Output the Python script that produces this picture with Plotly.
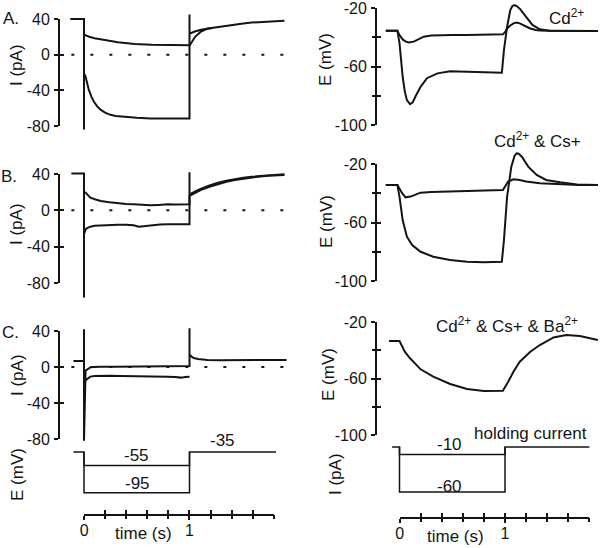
import plotly.graph_objects as go

W, H = 600, 548
FONT = "Liberation Sans, Arial, Helvetica, sans-serif"
INK = "#141414"

# ---------------- data ----------------
# Left column: current I (pA) vs time (s)
A_I1_t = [-0.13, 0.0, 0.0, 0.0, 0.01, 0.05, 0.1, 0.16, 0.24, 0.32, 0.4, 0.48, 0.64, 0.8, 0.98, 1.0, 1.0, 1.0,
          1.05, 1.11, 1.19, 1.27, 1.35, 1.43, 1.51, 1.59, 1.67, 1.75, 1.9]
A_I1_v = [40, 40, -84, 22, 22, 20, 18.5, 17, 15.5, 14, 13, 12, 11, 10.5, 10.5, 10.5, 45, 23.5,
          26, 28, 29.5, 31, 32.5, 34, 35, 36, 36.7, 37.2, 38]
A_I2_t = [0.0, 0.015, 0.03, 0.046, 0.07, 0.093, 0.125, 0.16, 0.2, 0.25, 0.3, 0.38, 0.5, 0.63, 0.8, 0.98, 1.0, 1.0,
          1.03, 1.05, 1.08, 1.11, 1.14, 1.17, 1.22]
A_I2_v = [-21, -24.5, -32, -39.5, -47, -52.5, -58, -62, -65, -67.5, -68.8, -69.8, -70.8, -71.5, -71.5, -71.5, -71.5, 10,
          15, 19.5, 23, 26, 27.5, 29, 30]

B_I1_t = [-0.12, 0.0, 0.0, 0.0, 0.015, 0.06, 0.11, 0.16, 0.24, 0.32, 0.4, 0.47, 0.55, 0.63, 0.71, 0.79, 0.87, 0.98,
          1.0, 1.0, 1.0, 1.05, 1.11, 1.19, 1.27, 1.35, 1.43, 1.51, 1.59, 1.67, 1.74, 1.82, 1.9]
B_I1_v = [40.5, 40.5, -96, 20, 19.5, 14, 12, 10.3, 8.8, 7.7, 7, 6.6, 6, 5.5, 6, 6.6, 6.3, 6.6,
          6.6, 42, 17.6, 20.5, 23.9, 27.5, 30.5, 32.5, 34.5, 35.8, 37, 37.8, 38.5, 39, 39.6]
B_I2_t = [0.0, 0.005, 0.015, 0.03, 0.06, 0.1, 0.16, 0.24, 0.32, 0.4, 0.47, 0.52, 0.56, 0.6, 0.66, 0.72, 0.79, 0.87,
          0.98, 1.0, 1.0, 1.05, 1.11, 1.19, 1.27, 1.35, 1.43, 1.51, 1.59, 1.67, 1.74, 1.82, 1.9]
B_I2_v = [-26.4, -24, -21, -19.5, -18, -17, -16.5, -16, -15.8, -16, -16.5, -18, -17.5, -16.5, -16, -15.6, -15.4, -15.6,
          -15.4, -15.4, 16, 19, 22.5, 26, 29, 31.5, 33.5, 35, 36.3, 37.2, 38, 38.5, 39]

C_I1_t = [-0.1, 0.0, 0.0, 0.0, 0.015, 0.04, 0.06, 0.1, 0.16, 0.3, 0.47, 0.6, 0.8, 0.98, 1.0, 1.0, 1.0,
          1.02, 1.04, 1.08, 1.12, 1.17, 1.3, 1.5, 1.65, 1.8, 1.92]
C_I1_v = [6.7, 6.7, 42, -82, -4, -1.5, -0.4, 0, 0.4, 0.4, 0.4, 0.8, 1, 1.1, 1.1, 43, 14,
          11.5, 10, 8.9, 8.2, 7.8, 7.6, 7.8, 8.3, 7.8, 7.8]
C_I2_t = [0.0, 0.015, 0.04, 0.06, 0.1, 0.16, 0.25, 0.35, 0.47, 0.6, 0.7, 0.79, 0.86, 0.92, 0.96, 1.0]
C_I2_v = [-16, -14.4, -12, -10.7, -10, -9.6, -9.8, -10, -10, -10.3, -10.3, -10.7, -11.2, -11.8, -11, -10.7]

ZERO_t = [-0.12, 1.92]
ZERO_v = [0, 0]

# Left protocol: command voltage E (mV)
P_E1_t = [-0.1, 0, 0, 1, 1, 1.82]
P_E1_v = [-35, -35, -55, -55, -35, -35]
P_E2_t = [0, 0, 1, 1]
P_E2_v = [-35, -95, -95, -35]

# Right column: membrane potential E (mV) vs time (s)
RA1_t = [-0.13, -0.02, 0.0, 0.03, 0.06, 0.09, 0.135, 0.18, 0.23, 0.3, 0.39, 0.5, 0.64, 0.8, 0.98, 1.0, 1.02,
         1.05, 1.08, 1.11, 1.14, 1.19, 1.24, 1.29, 1.33, 1.45, 1.6, 1.75, 1.88]
RA1_v = [-35.5, -35.5, -38.5, -41.5, -43, -43.5, -43, -41.5, -39.6, -38.8, -38.5, -38.5, -38.5, -38.3, -38, -36.5, -34,
         -32, -30.5, -30, -30.5, -32.3, -34, -35, -35.4, -35.6, -35.7, -35.7, -35.8]
RA2_t = [-0.13, -0.02, 0.0, 0.015, 0.03, 0.05, 0.07, 0.1, 0.125, 0.15, 0.2, 0.26, 0.36, 0.48, 0.64, 0.8, 0.97,
         0.99, 1.02, 1.05, 1.07, 1.09, 1.11, 1.14, 1.17, 1.2, 1.26, 1.33, 1.42, 1.6, 1.88]
RA2_v = [-35.5, -35.5, -44, -56, -67, -77, -83, -85.8, -84.5, -80.7, -73.9, -68, -64.7, -63.2, -63.6, -64.3, -64.3,
         -48.8, -32.8, -21.4, -18.7, -18, -18.7, -20.5, -23, -26, -31.6, -34.6, -35.5, -35.7, -35.8]

RB1_t = [-0.13, -0.02, 0.025, 0.057, 0.104, 0.15, 0.2, 0.3, 0.48, 0.8, 0.98, 1.03, 1.08, 1.14, 1.2, 1.33, 1.52,
         1.7, 1.88]
RB1_v = [-34.4, -34.4, -40, -42.8, -42.3, -41, -39.6, -39.2, -38.9, -38.5, -37.8, -32, -30.5, -31, -32, -33.2, -34,
         -34.3, -34.4]
RB2_t = [-0.13, -0.02, 0.0, 0.03, 0.07, 0.12, 0.2, 0.32, 0.48, 0.64, 0.8, 0.97, 0.99, 1.02, 1.06, 1.09, 1.11,
         1.13, 1.16, 1.22, 1.3, 1.39, 1.52, 1.68, 1.88]
RB2_v = [-34.4, -34.4, -42.3, -58.3, -69.7, -75.4, -80, -83.4, -85.6, -86.8, -87.2, -86.8, -72, -42.3, -21.8, -14.5,
         -12.7, -13, -15, -21.8, -27.5, -30.9, -32.5, -34, -34.4]

RC_t = [-0.1, 0.0, 0.05, 0.1, 0.2, 0.32, 0.48, 0.64, 0.8, 0.98, 1.03, 1.08, 1.14, 1.24, 1.33, 1.46, 1.58, 1.71, 1.88]
RC_v = [-33.5, -33.5, -41, -45.7, -53.5, -58.7, -63.9, -67.4, -68.8, -68.6, -62.3, -55.2, -48.1, -41, -36.3, -30.9,
        -29.2, -29.9, -32.7]

# Right protocol: injected current I (pA)
RP1_t = [-0.07, 0, 0, 1, 1, 1.8]
RP1_v = [0, 0, -10, -10, 0, 0]
RP2_t = [0, 0, 1, 1]
RP2_v = [0, -60, -60, 0]

# Ticks: labelled ticks and unlabelled ticks
LEFT_TICKS = [-80, -40, 0, 40]
LEFT_TEXT = ["-80", "-40", "0", "40"]
LEFT_MINOR = []
RIGHT_TICKS = [-100, -60, -20]
RIGHT_TEXT = ["-100", "-60", "-20"]
RIGHT_MINOR = [-80, -40]
TIME_TICKS = [0, 1.0]
TIME_TEXT = ["0", "1"]
TIME_MINOR = [0.2, 0.4, 0.6, 0.8, 1.2, 1.4, 1.6, 1.8]

# ---------------- geometry helpers (pixels -> paper) ----------------
def xd(a, b):
    return [a / W, b / W]


def yd(top, bottom):
    return [1 - bottom / H, 1 - top / H]


LX0, RX0, SC = 84.0, 399.5, 105.5
LXR = [(60 - LX0) / SC, (292 - LX0) / SC]
RXR = [(377 - RX0) / SC, (600 - RX0) / SC]

fig = go.Figure()
layout = dict(
    width=W, height=H, margin=dict(l=0, r=0, t=0, b=0, autoexpand=False),
    paper_bgcolor="white", plot_bgcolor="rgba(0,0,0,0)",
    showlegend=False, font=dict(family=FONT, size=16, color=INK),
)

tickfont = dict(family=FONT, size=16, color=INK)
hidden = dict(visible=False, showgrid=False, zeroline=False, automargin=False)

counter = [0]


def new_idx():
    counter[0] += 1
    return counter[0]


def sx(i):
    return "" if i == 1 else str(i)


def placeholder(xi, yi):
    fig.add_trace(go.Scatter(x=[None], y=[None], xaxis="x" + sx(xi), yaxis="y" + sx(yi), hoverinfo="skip"))


def panel(xdom, xr, pt, pb, vt, vb, tv, tt, minor, extra=22):
    """Data subplot (hidden axes, roomy domain) + visible y axis subplot with cross ticks."""
    s = (pb - pt) / (vt - vb)
    et = min(extra, pt)
    eb = min(extra, H - pb)
    d = new_idx()
    layout["xaxis" + sx(d)] = dict(domain=xd(*xdom), range=xr, anchor="y" + sx(d), **hidden)
    layout["yaxis" + sx(d)] = dict(domain=yd(pt - et, pb + eb), range=[vb - eb / s, vt + et / s],
                                   anchor="x" + sx(d), **hidden)
    v = new_idx()
    layout["xaxis" + sx(v)] = dict(domain=xd(*xdom), range=xr, anchor="y" + sx(v), **hidden)
    common = dict(domain=yd(pt, pb), range=[vb - 0.01, vt + 0.01], anchor="x" + sx(v),
                  showgrid=False, zeroline=False, tickwidth=2, tickcolor=INK, ticklen=4, automargin=False)
    layout["yaxis" + sx(v)] = dict(common, tickvals=tv, ticktext=tt, ticks="outside", showline=True,
                                   linewidth=2, linecolor=INK, tickfont=tickfont, ticklabelstandoff=1,
                                   ticklabeloverflow="allow")
    placeholder(v, v)
    o = new_idx()
    layout["yaxis" + sx(o)] = dict(common, tickvals=tv + minor, ticks="inside", showticklabels=False,
                                   showline=False, overlaying="y" + sx(v))
    placeholder(v, o)
    if minor:
        m = new_idx()
        layout["yaxis" + sx(m)] = dict(common, tickvals=minor, ticks="outside", showticklabels=False,
                                       showline=False, overlaying="y" + sx(v))
        placeholder(v, m)
    return d


def hidden_panel(xdom, xr, top, bottom, yr):
    d = new_idx()
    layout["xaxis" + sx(d)] = dict(domain=xd(*xdom), range=xr, anchor="y" + sx(d), **hidden)
    layout["yaxis" + sx(d)] = dict(domain=yd(top, bottom), range=yr, anchor="x" + sx(d), **hidden)
    return d


def time_axis(x0, py):
    d = new_idx()
    dom = xd(x0, x0 + 1.8 * SC)
    layout["yaxis" + sx(d)] = dict(domain=yd(py - 10, py), range=[0, 1], anchor="x" + sx(d), **hidden)
    common = dict(domain=dom, range=[-0.001, 1.801], showgrid=False, zeroline=False,
                  tickwidth=2, tickcolor=INK, ticklen=4, automargin=False)
    layout["xaxis" + sx(d)] = dict(common, anchor="y" + sx(d), tickvals=TIME_TICKS, ticktext=TIME_TEXT,
                                   ticks="outside", showline=True, linewidth=2, linecolor=INK,
                                   tickfont=tickfont, ticklabelstandoff=-3, ticklabeloverflow="allow")
    placeholder(d, d)
    o = new_idx()
    layout["xaxis" + sx(o)] = dict(common, anchor="y" + sx(d), tickvals=TIME_TICKS + TIME_MINOR,
                                   ticks="inside", showticklabels=False, showline=False,
                                   overlaying="x" + sx(d))
    placeholder(o, d)
    m = new_idx()
    layout["xaxis" + sx(m)] = dict(common, anchor="y" + sx(d), tickvals=TIME_MINOR, ticks="outside",
                                   showticklabels=False, showline=False, overlaying="x" + sx(d))
    placeholder(m, d)


LA = panel((60, 292), LXR, 19, 126, 40, -80, LEFT_TICKS, LEFT_TEXT, LEFT_MINOR)
LB = panel((60, 292), LXR, 174, 283, 40, -80, LEFT_TICKS, LEFT_TEXT, LEFT_MINOR)
LC = panel((60, 292), LXR, 331, 439, 40, -80, LEFT_TICKS, LEFT_TEXT, LEFT_MINOR)
RA = panel((377, 600), RXR, 8, 125, -20, -100, RIGHT_TICKS, RIGHT_TEXT, RIGHT_MINOR)
RB = panel((377, 600), RXR, 164, 281, -20, -100, RIGHT_TICKS, RIGHT_TEXT, RIGHT_MINOR)
RC = panel((377, 600), RXR, 322, 435, -20, -100, RIGHT_TICKS, RIGHT_TEXT, RIGHT_MINOR)
LP = hidden_panel((60, 292), LXR, 420, 505, [-35 - 53 / 0.68, -35 + 32 / 0.68])
RP = hidden_panel((377, 600), RXR, 420, 505, [-58 / 0.75, 27 / 0.75])
time_axis(LX0, 514)
time_axis(RX0, 517)


def line(t, v, ax, width=2, dash=None):
    fig.add_trace(go.Scatter(x=t, y=v, mode="lines", xaxis="x" + sx(ax), yaxis="y" + sx(ax),
                             line=dict(color=INK, width=width, dash=dash), hoverinfo="skip"))


DOT = "3px,16px"
line(ZERO_t, ZERO_v, LA, 2, DOT)
line(A_I1_t, A_I1_v, LA)
line(A_I2_t, A_I2_v, LA)
line(ZERO_t, ZERO_v, LB, 2, DOT)
line(B_I1_t, B_I1_v, LB)
line(B_I2_t, B_I2_v, LB)
line(ZERO_t, ZERO_v, LC, 2, DOT)
line(C_I1_t, C_I1_v, LC)
line(C_I2_t, C_I2_v, LC)
line(P_E1_t, P_E1_v, LP, 1.5)
line(P_E2_t, P_E2_v, LP, 1.5)
line(RA1_t, RA1_v, RA)
line(RA2_t, RA2_v, RA)
line(RB1_t, RB1_v, RB)
line(RB2_t, RB2_v, RB)
line(RC_t, RC_v, RC)
line(RP1_t, RP1_v, RP, 1.5)
line(RP2_t, RP2_v, RP, 1.5)


def ann(text, x, y, size=17, angle=0):
    return dict(text=text, x=x / W, y=1 - y / H, xref="paper", yref="paper", showarrow=False,
                font=dict(family=FONT, size=size, color=INK), textangle=angle,
                xanchor="center", yanchor="middle")


annotations = [
    ann("A.", 11, 19), ann("B.", 9, 176), ann("C.", 10, 332),
    ann("I (pA)", 17, 65, angle=-90), ann("I (pA)", 17, 224, angle=-90), ann("I (pA)", 17, 375, angle=-90),
    ann("E (mV)", 17, 475, angle=-90),
    ann("E (mV)", 326, 60, angle=-90), ann("E (mV)", 326, 222, angle=-90), ann("E (mV)", 328, 375, angle=-90),
    ann("I (pA)", 335, 474, angle=-90),
    ann("Cd<sup>2+</sup>", 566, 17),
    ann("Cd<sup>2+</sup> &amp; Cs+", 537, 140),
    ann("Cd<sup>2+</sup> &amp; Cs+ &amp; Ba<sup>2+</sup>", 507, 325),
    ann("-55", 136, 455), ann("-95", 137, 483), ann("-35", 222, 440),
    ann("-10", 449, 444), ann("-60", 449, 486), ann("holding current", 530, 433),
    ann("time (s)", 143, 533), ann("time (s)", 455, 536),
]
layout["annotations"] = annotations

fig.update_layout(**layout)
fig.write_html("out.html", config={"displayModeBar": False},
               post_script="document.body.style.margin='0';document.body.style.overflow='hidden';")
